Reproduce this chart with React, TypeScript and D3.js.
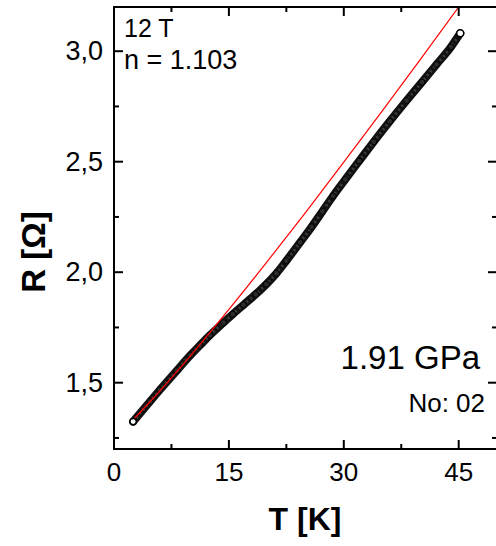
import React from "react";
import * as d3 from "d3";

const W = 496;
const H = 546;

// measured data (black, open circles)
const tData = [2.5, 4.7, 6.0, 8.2, 10.0, 11.2, 12.5, 14.3, 15.5, 16.9, 18.5, 19.9, 21.2, 22.5, 24.3, 25.8, 27.2, 28.6, 30.2, 32.0, 33.9, 36.0, 38.2, 40.2, 42.1, 44.0, 45.2];
const rData = [1.324, 1.415, 1.468, 1.555, 1.625, 1.668, 1.714, 1.772, 1.81, 1.852, 1.9, 1.946, 1.995, 2.052, 2.135, 2.205, 2.275, 2.345, 2.42, 2.503, 2.59, 2.683, 2.777, 2.86, 2.94, 3.02, 3.081];

// fit (red line)
const tFit = [2.7, 5, 10, 15, 20, 25, 30, 35, 40, 45];
const rFit = [1.34, 1.425, 1.623, 1.832, 2.048, 2.27, 2.498, 2.729, 2.963, 3.2];

const xMajor = [0, 15, 30, 45];
const xMinor = [7.5, 22.5, 37.5];
const yMajor = [1.5, 2.0, 2.5, 3.0];
const yMinor = [1.25, 1.75, 2.25, 2.75];
const xDomain = [0, 50];
const yDomain = [1.2, 3.2];

const fmtY = (v: number) => v.toFixed(1).replace(".", ",");

export default function App() {
  const left = 114, right = 497, top = 7, bottom = 449;
  const x = d3.scaleLinear().domain(xDomain).range([left, right]);
  const y = d3.scaleLinear().domain(yDomain).range([bottom, top]);

  const dataPts = tData.map((t, i) => [t, rData[i]] as [number, number]);
  const fitPts = tFit.map((t, i) => [t, rFit[i]] as [number, number]);

  const line = d3
    .line<[number, number]>()
    .x((d) => x(d[0]))
    .y((d) => y(d[1]))
    .curve(d3.curveMonotoneX);

  const font = "'Liberation Sans', Arial, sans-serif";
  const maj = 9, mnr = 5;

  return (
    <svg
      width={W}
      height={H}
      style={{ position: "absolute", left: 0, top: 0, background: "#fff" }}
      fontFamily={font}
    >
      <defs>
        <clipPath id="plot">
          <rect x={left} y={top} width={right - left} height={bottom - top} />
        </clipPath>
      </defs>

      {/* data */}
      <g clipPath="url(#plot)">
        <path d={line(dataPts) || ""} fill="none" stroke="#111" strokeWidth={8} strokeLinecap="round" />
        <path d={line(dataPts) || ""} fill="none" stroke="#3c3c3c" strokeWidth={3} strokeDasharray="2 3" />
        {dataPts.map((d, i) => (
          <circle key={i} cx={x(d[0])} cy={y(d[1])} r={3} fill="#2a2a2a" stroke="#000" strokeWidth={1} />
        ))}
        <circle cx={x(tData[0])} cy={y(rData[0])} r={3.2} fill="#fff" stroke="#000" strokeWidth={1.5} />
        <circle cx={x(tData[tData.length - 1])} cy={y(rData[rData.length - 1])} r={3.5} fill="#fff" stroke="#000" strokeWidth={1.5} />
        <path d={line(fitPts) || ""} fill="none" stroke="#ff0000" strokeWidth={1.2} />
      </g>

      {/* frame */}
      <rect x={left} y={top} width={right - left} height={bottom - top} fill="none" stroke="#000" strokeWidth={2} />

      {/* x ticks */}
      {xMajor.map((v) => (
        <g key={"xm" + v}>
          <line x1={x(v)} x2={x(v)} y1={bottom} y2={bottom - maj} stroke="#000" strokeWidth={2} />
          <line x1={x(v)} x2={x(v)} y1={top} y2={top + maj} stroke="#000" strokeWidth={2} />
          <text x={x(v)} y={481} fontSize={26} textAnchor="middle">{v}</text>
        </g>
      ))}
      {xMinor.map((v) => (
        <g key={"xn" + v}>
          <line x1={x(v)} x2={x(v)} y1={bottom} y2={bottom - mnr} stroke="#000" strokeWidth={2} />
          <line x1={x(v)} x2={x(v)} y1={top} y2={top + mnr} stroke="#000" strokeWidth={2} />
        </g>
      ))}

      {/* y ticks */}
      {yMajor.map((v) => (
        <g key={"ym" + v}>
          <line x1={left} x2={left + maj} y1={y(v)} y2={y(v)} stroke="#000" strokeWidth={2} />
          <line x1={right} x2={right - maj} y1={y(v)} y2={y(v)} stroke="#000" strokeWidth={2} />
          <text x={103} y={y(v) + 9} fontSize={27} textAnchor="end">{fmtY(v)}</text>
        </g>
      ))}
      {yMinor.map((v) => (
        <g key={"yn" + v}>
          <line x1={left} x2={left + mnr} y1={y(v)} y2={y(v)} stroke="#000" strokeWidth={2} />
          <line x1={right} x2={right - mnr} y1={y(v)} y2={y(v)} stroke="#000" strokeWidth={2} />
        </g>
      ))}

      {/* axis titles */}
      <text x={305} y={530} fontSize={32} fontWeight="bold" textAnchor="middle">T [K]</text>
      <text
        transform={`translate(45,252) rotate(-90)`}
        fontSize={33}
        fontWeight="bold"
        textAnchor="middle"
      >
        R [Ω]
      </text>

      {/* annotations */}
      <text x={124} y={37} fontSize={25}>12 T</text>
      <text x={124} y={69} fontSize={27}>n = 1.103</text>
      <text x={480} y={369} fontSize={33} textAnchor="end">1.91 GPa</text>
      <text x={485} y={412} fontSize={26} textAnchor="end">No: 02</text>
    </svg>
  );
}
